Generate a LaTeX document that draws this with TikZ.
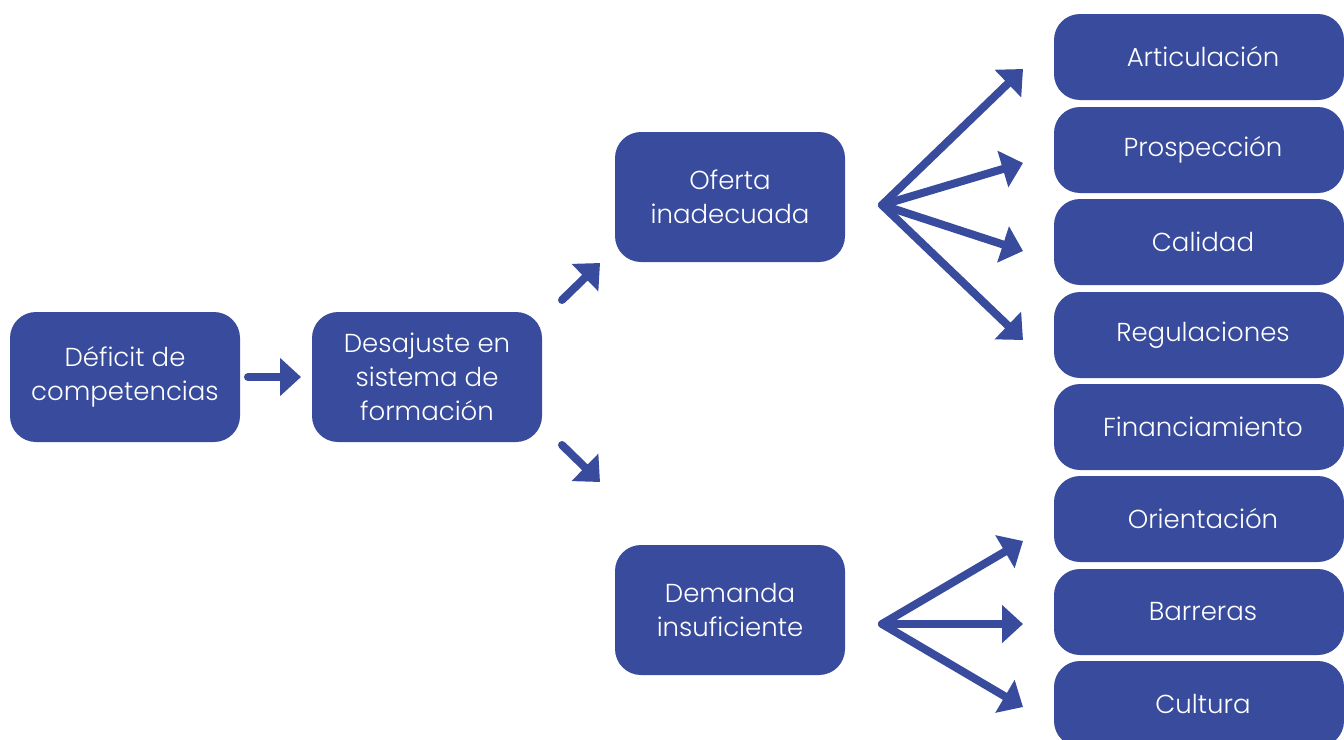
\documentclass[tikz,border=0pt]{standalone}
\usepackage{fontspec}
\setmainfont{Poppins}[UprightFont=* Light]
\usetikzlibrary{arrows.meta}
\definecolor{boxblue}{RGB}{56,75,156}
\tikzset{
  box/.style={fill=boxblue, rounded corners=26pt, text=white, align=center,
    inner sep=0pt, font=\fontsize{26}{34}\selectfont},
  bigbox/.style={box, minimum width=230pt, minimum height=130pt},
  smallbox/.style={box, minimum width=290pt, minimum height=86pt},
  arr/.style={draw=boxblue, line width=8pt, line cap=round,
    -{Triangle[length=21pt,width=37pt]}},
}
\begin{document}
\begin{tikzpicture}[x=1pt,y=-1pt]
\useasboundingbox (0,0) rectangle (1344,739);
\clip (0,0) rectangle (1344,739);
\node[bigbox] (def) at (125,377) {Déficit de\\competencias};
\node[bigbox] (des) at (427,377) {Desajuste en\\sistema de\\formación};
\node[bigbox] (ofe) at (730,197) {Oferta\\inadecuada};
\node[bigbox] (dem) at (730,610) {Demanda\\insuficiente};
\node[smallbox] (art) at (1199,57) {\hspace*{8pt}Articulación};
\node[smallbox] (pro) at (1199,150) {\hspace*{8pt}Prospección};
\node[smallbox] (cal) at (1199,242) {\hspace*{8pt}Calidad};
\node[smallbox] (reg) at (1199,335) {\hspace*{8pt}Regulaciones};
\node[smallbox] (fin) at (1199,427) {\hspace*{8pt}Financiamiento};
\node[smallbox] (ori) at (1199,519) {\hspace*{8pt}Orientación};
\node[smallbox] (bar) at (1199,612) {\hspace*{8pt}Barreras};
\node[smallbox] (cul) at (1199,704) {\hspace*{8pt}Cultura};
% connector end points
\coordinate (d1) at (248,377);
\coordinate (d2) at (301,377);
\coordinate (u1) at (562,300);
\coordinate (u2) at (600,263);
\coordinate (w1) at (562,445);
\coordinate (w2) at (600,482);
\coordinate (fo) at (882,205);
\coordinate (fd) at (882,624);
\coordinate (eart) at (1023,69);
\coordinate (epro) at (1023,163);
\coordinate (ecal) at (1023,251);
\coordinate (ereg) at (1023,340);
\coordinate (eori) at (1023,541);
\coordinate (ebar) at (1023,624);
\coordinate (ecul) at (1023,707);
\draw[arr] (d1) -- (d2);
\draw[arr] (u1) -- (u2);
\draw[arr] (w1) -- (w2);
\foreach \e in {eart,epro,ecal,ereg} \draw[arr] (fo) -- (\e);
\foreach \e in {eori,ebar,ecul} \draw[arr] (fd) -- (\e);
\end{tikzpicture}
\end{document}
